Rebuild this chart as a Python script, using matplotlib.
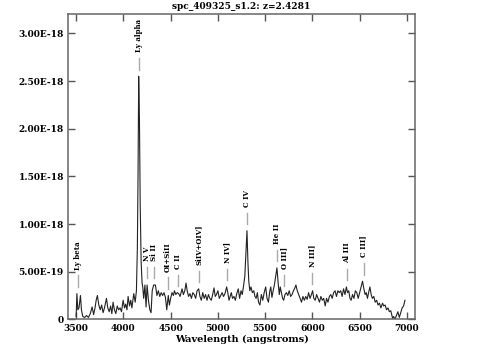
import numpy as np
import matplotlib
matplotlib.use("Agg")
import matplotlib.pyplot as plt

# Spectrum, flux in units of 1e-18
wave = [3500, 3508, 3518, 3530, 3546, 3556, 3570, 3590, 3610, 3630, 3650, 3669, 3685, 3700,
        3712, 3725, 3740, 3755, 3770, 3785, 3800, 3821, 3835, 3850, 3865, 3878, 3891, 3905,
        3920, 3935, 3950, 3965, 3980, 3997, 4012, 4025, 4038, 4050, 4065, 4078, 4090, 4110,
        4125, 4138, 4148, 4155, 4162, 4170, 4178, 4188, 4198, 4205, 4215, 4228, 4240, 4251,
        4265, 4280, 4293, 4305, 4320, 4339, 4355, 4370, 4385, 4400, 4415, 4430, 4445, 4459,
        4475, 4487, 4500, 4515, 4530, 4540, 4555, 4570, 4585, 4600, 4621, 4635, 4650, 4663,
        4675, 4690, 4705, 4720, 4735, 4750, 4765, 4780, 4797, 4810, 4825, 4840, 4855, 4870,
        4885, 4900, 4915, 4930, 4945, 4959, 4972, 4985, 5000, 5015, 5030, 5045, 5060, 5075,
        5093, 5105, 5118, 5130, 5142, 5155, 5170, 5185, 5200, 5216, 5230, 5245, 5258, 5270,
        5285, 5297, 5308, 5318, 5327, 5338, 5350, 5365, 5380, 5392, 5405, 5418, 5430, 5445,
        5460, 5475, 5490, 5506, 5520, 5535, 5550, 5560, 5572, 5585, 5598, 5610, 5625, 5638,
        5650, 5660, 5672, 5685, 5696, 5710, 5725, 5740, 5755, 5770, 5785, 5800, 5815, 5826,
        5840, 5855, 5870, 5885, 5900, 5915, 5930, 5945, 5960, 5975, 5990, 6003, 6015, 6030,
        6045, 6060, 6075, 6090, 6105, 6120, 6136, 6150, 6165, 6180, 6195, 6210, 6225, 6240,
        6255, 6270, 6285, 6300, 6315, 6330, 6345, 6360, 6372, 6385, 6398, 6410, 6425, 6440,
        6455, 6470, 6485, 6500, 6515, 6531, 6545, 6558, 6570, 6583, 6595, 6609, 6622, 6635,
        6650, 6665, 6680, 6695, 6710, 6725, 6743, 6755, 6770, 6785, 6800, 6815, 6830, 6849,
        6860, 6873, 6890, 6905, 6920, 6935, 6950, 6965, 6980]
flux = [0.03, 0.27, 0.10, 0.12, 0.25, 0.10, 0.03, 0.02, 0.04, 0.02, 0.06, 0.13, 0.05, 0.12,
        0.20, 0.25, 0.15, 0.10, 0.15, 0.07, 0.12, 0.22, 0.12, 0.08, 0.14, 0.06, 0.18, 0.10,
        0.06, 0.14, 0.10, 0.12, 0.08, 0.20, 0.12, 0.16, 0.10, 0.24, 0.14, 0.20, 0.12, 0.27,
        0.18, 0.30, 0.75, 1.50, 2.55, 2.10, 1.20, 0.60, 0.38, 0.34, 0.22, 0.36, 0.13, 0.36,
        0.20, 0.10, 0.07, 0.30, 0.36, 0.36, 0.25, 0.30, 0.24, 0.28, 0.25, 0.28, 0.23, 0.10,
        0.25, 0.15, 0.22, 0.28, 0.25, 0.30, 0.26, 0.28, 0.27, 0.24, 0.32, 0.26, 0.30, 0.38,
        0.30, 0.24, 0.27, 0.22, 0.28, 0.26, 0.22, 0.30, 0.32, 0.24, 0.20, 0.28, 0.22, 0.26,
        0.20, 0.26, 0.22, 0.20, 0.26, 0.33, 0.24, 0.26, 0.30, 0.22, 0.25, 0.28, 0.24, 0.27,
        0.34, 0.28, 0.20, 0.24, 0.28, 0.22, 0.24, 0.20, 0.27, 0.32, 0.22, 0.30, 0.26, 0.34,
        0.45, 0.70, 0.93, 0.60, 0.40, 0.30, 0.34, 0.28, 0.30, 0.24, 0.22, 0.28, 0.18, 0.15,
        0.26, 0.20, 0.28, 0.34, 0.22, 0.18, 0.30, 0.34, 0.23, 0.30, 0.36, 0.44, 0.54, 0.38,
        0.26, 0.34, 0.28, 0.22, 0.20, 0.26, 0.28, 0.25, 0.30, 0.24, 0.26, 0.30, 0.33, 0.36,
        0.30, 0.26, 0.22, 0.18, 0.24, 0.20, 0.24, 0.21, 0.28, 0.22, 0.26, 0.30, 0.22, 0.20,
        0.26, 0.22, 0.18, 0.24, 0.20, 0.22, 0.14, 0.22, 0.18, 0.24, 0.26, 0.22, 0.28, 0.30,
        0.24, 0.30, 0.28, 0.30, 0.24, 0.32, 0.26, 0.34, 0.28, 0.30, 0.22, 0.20, 0.26, 0.22,
        0.30, 0.28, 0.22, 0.28, 0.34, 0.40, 0.32, 0.26, 0.28, 0.22, 0.28, 0.34, 0.26, 0.22,
        0.24, 0.18, 0.20, 0.15, 0.17, 0.12, 0.17, 0.14, 0.15, 0.10, 0.12, 0.08, 0.09, 0.01,
        0.03, 0.00, 0.04, 0.08, 0.02, 0.07, 0.12, 0.14, 0.20]

# Emission lines: rest wavelengths, redshifted with z
z = 2.4281
line_names = ["Ly beta", "Ly alpha", "N V", "Si II", "OI+SiII", "C II", "SiIV+OIV]",
              "N IV]", "C IV", "He II", "O III]", "N III]", "Al III", "C III]"]
line_rest = [1025.72, 1215.67, 1240.14, 1262.6, 1304.0, 1335.0, 1400.0,
             1486.5, 1549.0, 1640.4, 1663.5, 1750.0, 1857.4, 1908.7]

yticks = [0, 0.5e-18, 1.0e-18, 1.5e-18, 2.0e-18, 2.5e-18, 3.0e-18]
xticks = [3500, 4000, 4500, 5000, 5500, 6000, 6500, 7000]

plt.rcParams['font.family'] = ['DejaVu Serif']
plt.rcParams['font.weight'] = 'bold'

wave = np.array(wave)
flux = np.array(flux) * 1e-18

fig = plt.figure(figsize=(4.83, 3.58), dpi=100)
ax = fig.add_axes([0.141, 0.108, 0.718, 0.852])
ax.plot(wave, flux, color='#222222', lw=0.8)

# line markers and labels
for name, rest in zip(line_names, line_rest):
    lam = rest * (1 + z)
    near = (wave > lam - 25) & (wave < lam + 25)
    peak = flux[near].max()
    ax.plot([lam, lam], [peak + 0.07e-18, peak + 0.19e-18], color='#aaaaaa', lw=1.0)
    ax.text(lam, peak + 0.25e-18, name, rotation=90, ha='center', va='bottom',
            fontsize=5, fontweight='bold')

ax.set_xlim(3415, 7085)
ax.set_ylim(0, 3.2e-18)
ax.set_xticks(xticks)
ax.set_xticklabels([str(t) for t in xticks])
ax.set_yticks(yticks)
ax.set_yticklabels(["0"] + [f"{v:.2E}" for v in yticks[1:]])
ax.tick_params(direction='in', length=5, width=1, color='#555555', top=True, right=True,
               labelsize=6.5, pad=3)
for sp in ax.spines.values():
    sp.set_color('#666666')
    sp.set_linewidth(1.1)

ax.set_title("spc_409325_s1.2: z=2.4281", fontsize=6.5, fontweight='bold', pad=4)
ax.set_xlabel("Wavelength (angstroms)", fontsize=7, fontweight='bold', labelpad=2)

fig.savefig("out.png", dpi=100)
